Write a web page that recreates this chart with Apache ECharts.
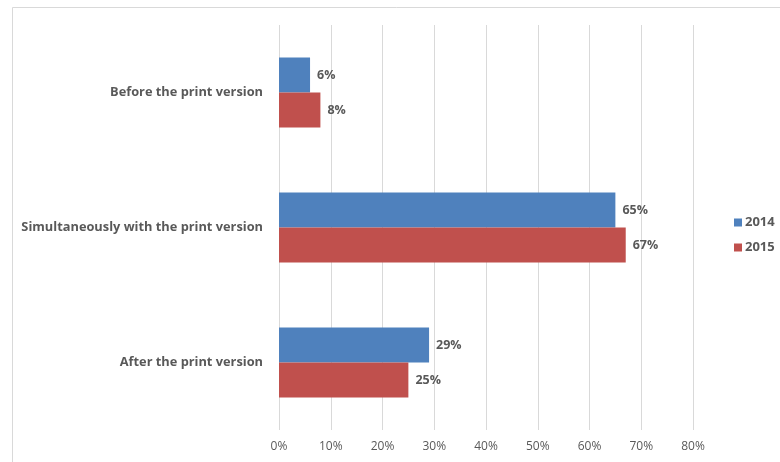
<!DOCTYPE html>
<html>
<head>
<meta charset="utf-8">
<script src="https://cdn.jsdelivr.net/npm/echarts@6/dist/echarts.min.js"></script>
<style>
  html, body { margin: 0; padding: 0; background: #fff; }
  #chart { width: 780px; height: 462px; }
</style>
</head>
<body>
<div id="chart"></div>
<script>
// Release timing of the digital edition, share of respondents
const categories = ['Before the print version', 'Simultaneously with the print version', 'After the print version'];
const seriesNames = ['2014', '2015'];
const values2014 = [6, 65, 29];
const values2015 = [8, 67, 25];
const axisMax = 80;
const axisStep = 10;

const FONT = '"Open Sans", "Noto Sans", sans-serif';
const TEXT = '#595959';

const chart = echarts.init(document.getElementById('chart'), null, { renderer: 'canvas' });

const labelStyle = {
  show: true,
  position: 'right',
  distance: 7,
  formatter: p => p.value + '%',
  color: TEXT,
  fontFamily: FONT,
  fontWeight: 'bold',
  fontSize: 12.5
};

chart.setOption({
  animation: false,
  backgroundColor: '#fff',
  graphic: [{
    type: 'rect',
    shape: { x: 12.5, y: 7.5, width: 800, height: 500 },
    style: { fill: 'none', stroke: '#d9d9d9', lineWidth: 1 },
    silent: true,
    z: -10
  }],
  legend: {
    orient: 'vertical',
    left: 729,
    top: 211,
    itemWidth: 8,
    itemHeight: 8,
    itemGap: 12,
    icon: 'rect',
    textStyle: { color: TEXT, fontFamily: FONT, fontWeight: 'bold', fontSize: 13, padding: [0, 0, 0, -2] },
    data: seriesNames
  },
  grid: { left: 279, right: 87, top: 25, bottom: 32, containLabel: false },
  xAxis: {
    type: 'value',
    min: 0,
    max: axisMax,
    interval: axisStep,
    axisLine: { show: false },
    axisTick: { show: false },
    axisLabel: {
      formatter: v => v + '%',
      color: TEXT,
      fontFamily: FONT,
      fontSize: 12,
      margin: 11
    },
    splitLine: { show: true, lineStyle: { color: '#d9d9d9', width: 1 } }
  },
  yAxis: {
    type: 'category',
    inverse: true,
    data: categories,
    axisLine: { show: false },
    axisTick: { show: false },
    axisLabel: {
      color: TEXT,
      fontFamily: FONT,
      fontWeight: 'bold',
      fontSize: 12.8,
      margin: 16
    }
  },
  series: [
    {
      name: seriesNames[0],
      type: 'bar',
      data: values2014,
      barWidth: 35,
      barGap: '0%',
      itemStyle: { color: '#4F81BD' },
      label: labelStyle
    },
    {
      name: seriesNames[1],
      type: 'bar',
      data: values2015,
      barWidth: 35,
      barGap: '0%',
      itemStyle: { color: '#C0504D' },
      label: labelStyle
    }
  ]
});
</script>
</body>
</html>
